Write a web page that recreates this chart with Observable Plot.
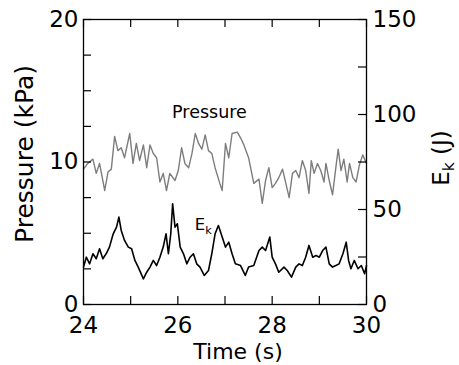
<!DOCTYPE html>
<html><head><meta charset="utf-8">
<script src="https://cdn.jsdelivr.net/npm/d3@7"></script>
<script src="https://cdn.jsdelivr.net/npm/@observablehq/plot@0.6"></script>
<style>body{margin:0;background:#fff}</style>
</head><body><div id="chart"></div>
<script>
// Time (s) of each pressure sample, and pressure (kPa)
const pressureTime = [24.00,24.09,24.20,24.27,24.34,24.45,24.52,24.59,24.66,24.73,24.80,24.87,24.98,25.05,25.12,25.19,25.27,25.34,25.41,25.48,25.55,25.62,25.69,25.76,25.83,25.94,26.01,26.08,26.15,26.23,26.30,26.37,26.44,26.51,26.58,26.65,26.72,26.79,26.89,26.94,27.01,27.08,27.15,27.26,27.33,27.40,27.50,27.61,27.72,27.79,27.86,27.93,28.00,28.07,28.14,28.22,28.29,28.36,28.43,28.50,28.57,28.64,28.71,28.78,28.83,28.89,28.96,29.03,29.10,29.14,29.21,29.28,29.35,29.40,29.46,29.52,29.59,29.64,29.71,29.78,29.85,29.92,30.00];
const pressureValue = [9.5,9.9,10.2,9.2,9.9,8.0,9.3,9.5,11.8,10.8,11.0,10.3,12.0,9.9,11.3,10.1,11.2,9.6,11.2,10.6,10.3,8.6,9.2,8.0,9.2,8.7,9.4,11.0,9.9,9.6,10.6,12.0,11.3,10.9,11.9,10.8,10.6,9.6,8.5,8.0,11.3,10.3,12.0,12.1,11.7,11.2,10.3,8.5,8.8,7.1,8.7,9.6,8.2,8.5,8.9,9.5,8.5,7.5,9.2,9.4,8.9,10.1,9.4,7.8,10.1,9.2,9.9,9.4,8.6,9.9,8.7,7.7,9.6,10.9,9.4,10.2,8.6,9.9,8.9,8.6,9.8,10.5,9.9];

// Time (s) of each kinetic-energy sample, and E_k (J)
const ekTime = [24.00,24.06,24.13,24.20,24.27,24.34,24.41,24.48,24.55,24.63,24.70,24.75,24.80,24.87,24.95,25.02,25.09,25.16,25.27,25.34,25.41,25.48,25.55,25.62,25.69,25.75,25.80,25.85,25.89,25.94,25.99,26.05,26.12,26.19,26.26,26.33,26.40,26.47,26.56,26.65,26.72,26.79,26.86,26.94,27.01,27.08,27.15,27.22,27.33,27.43,27.50,27.61,27.72,27.79,27.86,27.95,28.00,28.07,28.14,28.25,28.32,28.41,28.50,28.57,28.64,28.71,28.78,28.86,28.93,29.00,29.07,29.14,29.21,29.28,29.35,29.42,29.50,29.57,29.62,29.67,29.74,29.82,29.89,29.96,30.00];
const ekValue = [19.7,24.9,21.4,26.7,24.1,29.3,24.1,26.7,30.2,37.2,40.7,46.0,39.0,33.7,30.2,29.3,23.2,19.7,13.5,17.0,19.7,23.2,20.5,24.9,30.2,37.2,26.7,37.2,53.0,40.7,42.5,30.2,26.7,21.4,24.9,26.7,21.4,19.7,15.3,17.9,26.7,37.2,41.6,35.5,30.2,32.8,26.7,21.4,20.5,15.3,19.7,20.5,28.4,30.2,28.4,35.5,24.9,21.4,17.0,19.7,17.9,14.4,19.7,21.4,20.5,24.9,31.1,24.9,25.8,24.9,28.4,30.2,21.4,19.7,20.5,21.4,26.7,32.8,23.2,18.8,23.2,18.8,20.5,16.2,20.5];

// Axis tick values
const xTickLabels = [24, 26, 28, 30];
const xTickMarks = [24, 25, 26, 27, 28, 29, 30];
const leftTickLabels = [0, 10, 20];
const leftTickMarks = [0, 2.5, 5, 7.5, 10, 12.5, 15, 17.5, 20];
const rightTickLabels = [0, 50, 100, 150];
const rightTickMarks = [0, 25, 50, 75, 100, 125, 150];

// In-chart labels: text, time (s), pressure-axis value (kPa)
const seriesLabels = [
  {text: "Pressure", t: 26.67, v: 13.5, size: 17.5},
  {text: "Ek", t: 26.54, v: 5.57, size: 16.5}
];

const K = 150 / 20; // J per kPa on the shared vertical scale
const pressure = pressureTime.map((t, i) => ({t, v: pressureValue[i]}));
const ek = ekTime.map((t, i) => ({t, v: ekValue[i] / K}));

const W = 459, H = 365, mL = 83, mR = 93, mT = 19, mB = 61;
const pw = W - mL - mR, ph = H - mT - mB, tk = 8;
const font = "'DejaVu Sans', 'Liberation Sans', Arial, sans-serif";

const chart = Plot.plot({
  width: W, height: H,
  marginLeft: mL, marginRight: mR, marginTop: mT, marginBottom: mB,
  style: {fontFamily: font, background: "#fff", color: "#000", overflow: "visible"},
  x: {domain: [24, 30]},
  y: {domain: [0, 20]},
  marks: [
    Plot.line(pressure, {x: "t", y: "v", stroke: "#7d7d7d", strokeWidth: 1.4}),
    Plot.line(ek, {x: "t", y: "v", stroke: "#000", strokeWidth: 1.6}),
    Plot.tickX(xTickMarks, {x: d => d, insetTop: ph - tk, stroke: "#000", strokeWidth: 1.2}),
    Plot.tickX(xTickMarks, {x: d => d, insetBottom: ph - tk, stroke: "#000", strokeWidth: 1.2}),
    Plot.tickY(leftTickMarks, {y: d => d, insetRight: pw - tk, stroke: "#000", strokeWidth: 1.2}),
    Plot.tickY(rightTickMarks, {y: d => d / K, insetLeft: pw - tk, stroke: "#000", strokeWidth: 1.2}),
    Plot.frame({stroke: "#000", strokeWidth: 1.3}),
    Plot.axisX({ticks: xTickLabels, tickFormat: d => String(d), tickSize: 0, tickPadding: 12, fontSize: 23, label: null}),
    Plot.axisY({anchor: "left", ticks: leftTickLabels, tickFormat: d => String(d), tickSize: 0, tickPadding: 5, fontSize: 23, label: null}),
    Plot.axisY({anchor: "right", ticks: rightTickLabels.map(d => d / K), tickFormat: d => String(Math.round(d * K)), tickSize: 0, tickPadding: 6, fontSize: 23, label: null}),
    Plot.text(["Time (s)"], {frameAnchor: "bottom", dx: 13, dy: 47, text: d => d, textAnchor: "middle", lineAnchor: "middle", fontSize: 22, fill: "#000"}),
    Plot.text(["Pressure (kPa)"], {frameAnchor: "left", dx: -59, dy: -8, rotate: -90, text: d => d, textAnchor: "middle", lineAnchor: "middle", fontSize: 25, fill: "#000"}),
    Plot.text(["Ek (J)"], {frameAnchor: "right", dx: 75, dy: -4, rotate: -90, text: d => d, textAnchor: "middle", lineAnchor: "middle", fontSize: 23, fill: "#000"}),
    Plot.text(seriesLabels, {x: "t", y: "v", text: "text", fontSize: "size", textAnchor: "middle", lineAnchor: "middle", fill: "#000"})
  ]
});

// subscript k in the E_k labels
d3.select(chart).selectAll("text").each(function() {
  const el = d3.select(this);
  const s = el.text();
  if (s === "Ek (J)" || s === "Ek") {
    const rest = s.slice(2);
    el.text(null);
    el.append("tspan").text("E");
    el.append("tspan").attr("dy", "0.3em").attr("font-size", "0.68em").text("k");
    if (rest) el.append("tspan").attr("dy", "-0.2em").text(rest);
  }
});

document.getElementById("chart").appendChild(chart);
</script>
</body></html>
